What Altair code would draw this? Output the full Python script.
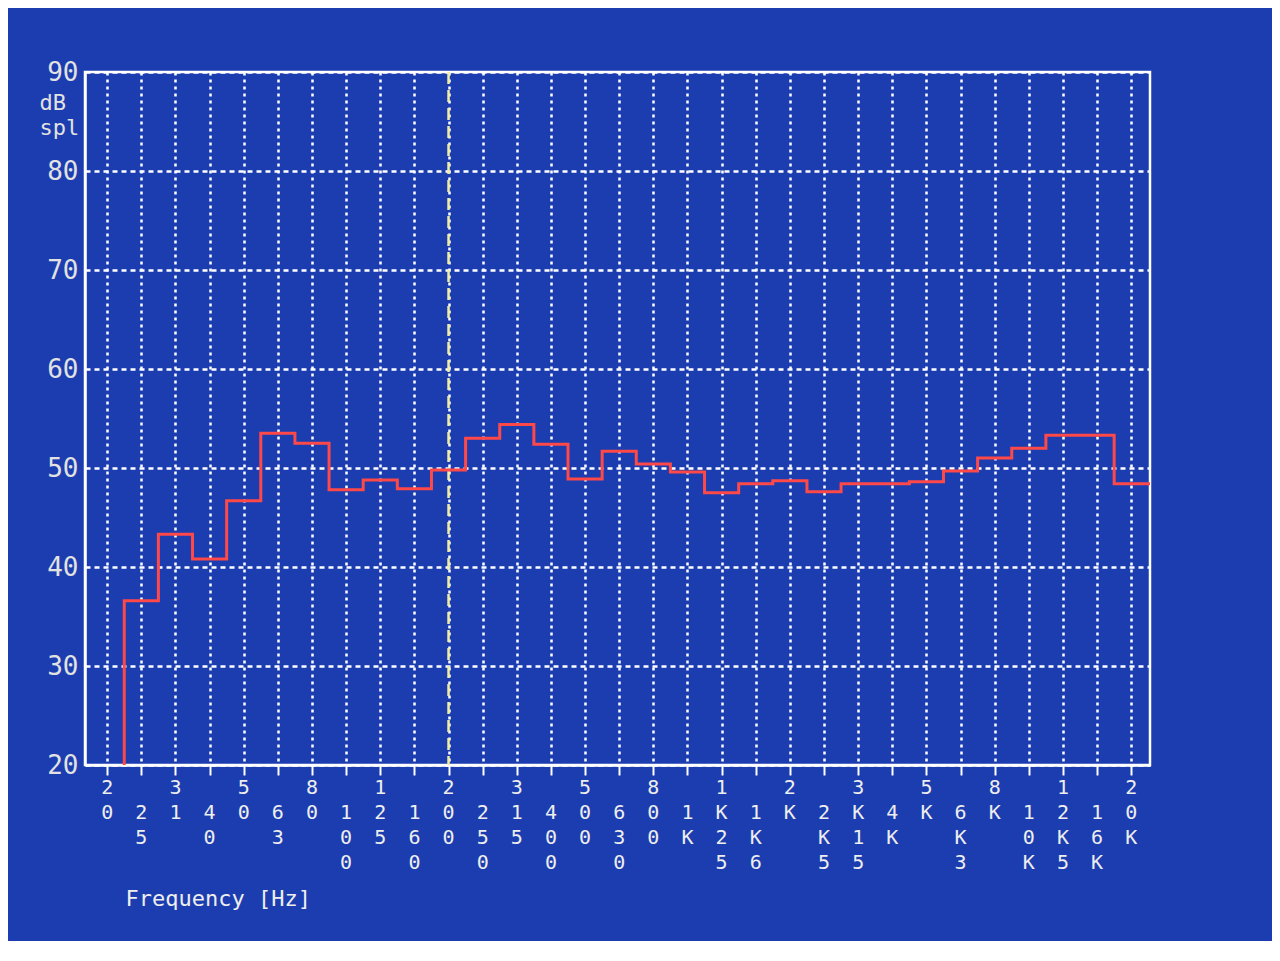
import altair as alt
import pandas as pd

# 1/3-octave band centres (as printed under the axis)
bands = ["20", "25", "31", "40", "50", "63", "80", "100", "125", "160",
         "200", "250", "315", "400", "500", "630", "800", "1K", "1K25", "1K6",
         "2K", "2K5", "3K15", "4K", "5K", "6K3", "8K", "10K", "12K5", "16K", "20K"]
# level per band in dB SPL (20 Hz sits at the floor of the scale)
levels = [20.0, 36.6, 43.3, 40.8, 46.7, 53.5, 52.5, 47.8, 48.8, 47.9,
          49.8, 53.0, 54.4, 52.4, 48.9, 51.7, 50.4, 49.6, 47.5, 48.4,
          48.7, 47.6, 48.4, 48.4, 48.6, 49.7, 51.0, 52.0, 53.3, 53.3, 48.4]
y_ticks = [20, 30, 40, 50, 60, 70, 80, 90]
cursor_band = "200"

MONO = "DejaVu Sans Mono"
BLUE = "#1b3db0"
TXT = "#eeeeee"

Y_MIN, Y_MAX = y_ticks[0], y_ticks[-1]
X_MIN, X_MAX = -0.65, len(bands) - 0.45
W, H = 1065, 693
LINE_H = 25
MAX_ROWS = max(len(b) for b in bands) + 1

# stepped trace: each band level spans +/- half a band around its centre
pts = []
started = False
for i, v in enumerate(levels):
    if not started:
        if v <= Y_MIN:
            continue
        pts.append((i - 0.5, Y_MIN))
        started = True
    pts.append((i - 0.5, v))
pts.append((X_MAX, levels[-1]))
line_df = pd.DataFrame({"f": [p[0] for p in pts],
                        "db": [p[1] for p in pts],
                        "o": list(range(len(pts)))})

# vertical (stacked) tick labels, alternate bands dropped by one character row
chars = []
for i, b in enumerate(bands):
    for k, c in enumerate(b):
        chars.append({"idx": i, "ch": c, "row": k + (i % 2)})
lab_df = pd.DataFrame(chars)
cur_df = pd.DataFrame({"idx": [bands.index(cursor_band)]})

x_scale = alt.Scale(domain=[X_MIN, X_MAX], nice=False, zero=False)
y_scale = alt.Scale(domain=[Y_MIN, Y_MAX], nice=False, zero=False)
row_scale = alt.Scale(domain=[0, MAX_ROWS], range=[H + 13, H + 13 + LINE_H * MAX_ROWS])

x_axis = alt.Axis(values=list(range(len(bands))), labels=False,
                  ticks=True, tickSize=10, tickWidth=2, tickColor="white",
                  domainColor="white", domainWidth=2.5,
                  grid=True, gridColor="white", gridDash=[3, 4], gridWidth=2.5, gridOpacity=1,
                  title="Frequency [Hz]", titleFont=MONO, titleFontSize=22,
                  titleFontWeight="normal", titleColor=TXT,
                  titleAlign="left", titleX=40, titleY=133, titleBaseline="middle")

y_axis = alt.Axis(values=y_ticks, ticks=False,
                  labelFont=MONO, labelFontSize=26, labelColor="#e2e2e2", labelPadding=7,
                  domainColor="white", domainWidth=2.5,
                  grid=True, gridColor="white", gridDash=[5, 4], gridWidth=2.5, gridOpacity=1,
                  title=["dB", "spl"], titleAngle=0, titleX=-46, titleY=20,
                  titleAlign="left", titleBaseline="top", titleFont=MONO,
                  titleFontSize=22, titleFontWeight="normal", titleColor="#e2e2e2",
                  titleLineHeight=25)

cursor = alt.Chart(cur_df).mark_rule(color="#f2eea0", strokeWidth=2.5, strokeDash=[12, 6]).encode(
    x=alt.X("idx:Q", scale=x_scale, axis=x_axis)
)

line = alt.Chart(line_df).mark_line(interpolate="step-after", color="#ff4848",
                                     strokeWidth=3, clip=True).encode(
    x=alt.X("f:Q", scale=x_scale, axis=x_axis),
    y=alt.Y("db:Q", scale=y_scale, axis=y_axis),
    order="o:Q",
)

labels = alt.Chart(lab_df).mark_text(
    baseline="top", align="center", font=MONO, fontSize=20, color=TXT
).encode(
    x=alt.X("idx:Q", scale=x_scale, axis=x_axis),
    y=alt.Y("row:Q", scale=row_scale, axis=None),
    text="ch:N",
)

chart = alt.layer(cursor, line, labels).resolve_scale(y="independent").properties(
    width=W, height=H,
    autosize=alt.AutoSizeParams(type="none"),
    padding={"left": 77, "top": 64, "right": 122, "bottom": 176},
    background=BLUE,
).configure_view(fill=BLUE, stroke="white", strokeWidth=2.5)

chart.save("out.html", embed_options={"renderer": "svg", "actions": False})
